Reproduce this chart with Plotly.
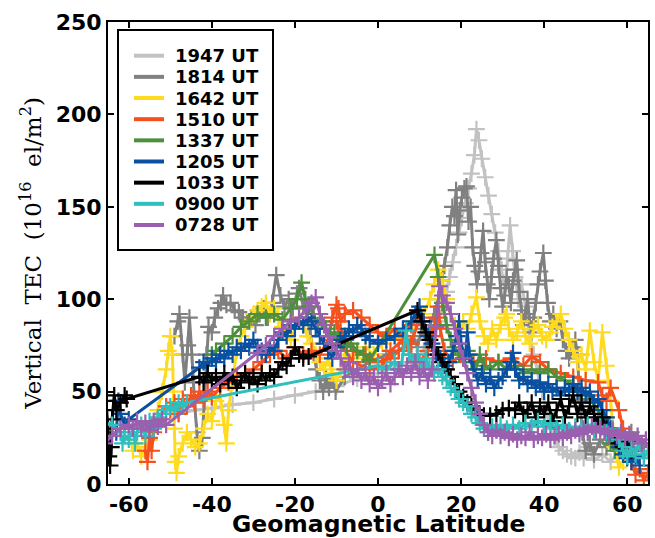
import plotly.graph_objects as go

# ---------------- data ----------------
labels = ["1947 UT", "1814 UT", "1642 UT", "1510 UT", "1337 UT",
          "1205 UT", "1033 UT", "0900 UT", "0728 UT"]
colors = ["#c2c2c2", "#808080", "#ffdb1f", "#f4511e", "#4d8f3d",
          "#0a50a0", "#000000", "#2fbfbf", "#9a5fae"]

lat_1947 = [-48, -44, -40, -35, -30, -25, -20, -15, -10, -5, 0, 4, 8, 11, 13, 14.5, 15.5, 16.5, 17.2, 18, 18.8,
            19.5, 20.2, 21, 21.8, 22.5, 23.2, 23.7, 24.3, 25, 25.8, 26.6, 27.4, 28.2, 29, 29.8, 30.5, 31.2, 31.8,
            32.4, 33, 33.8, 34.6, 35.5, 36.5, 37.5, 38.5, 39.5, 40.5, 41.5, 42.5, 43.5, 44.5, 45.5, 46.5, 47.5,
            48.5, 49.5, 50.5, 52, 54, 56, 58, 60, 62, 64]
tec_1947 = [38, 40, 41, 43, 44, 46, 48, 50, 53, 57, 60, 63, 66, 72, 80, 88, 96, 104, 112, 120, 128,
            136, 144, 152, 160, 168, 178, 192, 186, 176, 166, 156, 146, 136, 126, 116, 106, 122, 140,
            126, 112, 100, 108, 96, 80, 70, 60, 50, 40, 30, 24, 20, 18, 16, 15, 14,
            17, 14, 20, 13, 16, 12, 18, 15, 20, 14]

lat_1814 = [-49, -48.2, -47.8, -47, -46.5, -45.8, -45.4, -44.8, -44.2, -43.6, -43, -42.3, -41.8, -41.3, -40.8,
            -40, -39.3, -38.5, -37.8, -37.3, -36.5, -35.5, -34.5, -33.5, -32.5, -31.5, -30.5, -29.5, -28.5,
            -27.5, -26.5, -25.5, -24.5, -23.5, -22.5, -21.5, -20.5, -19.5, -19, -18, -17, -16.2, -15.5,
            -14.8, -14, -13.2, -12.5, -11.8, -11, -10.2, -8, -5, -2, 2, 5, 7, 8.5, 9.5, 10.5, 11.5, 12.5,
            13.5, 14.5, 15.3, 16, 16.7, 17.3, 17.9, 18.4, 18.8, 19.2, 19.7, 20.2, 20.8, 21.3, 21.8, 22.3,
            22.8, 23.3, 23.8, 24.3, 24.8, 25.3, 25.8, 26.3, 26.8, 27.3, 27.8, 28.5, 29, 29.5, 30, 30.5, 31,
            31.5, 32, 32.5, 33, 33.4, 34, 34.5, 35, 35.5, 36, 36.5, 37, 37.5, 38, 38.5, 39, 39.8, 40.3,
            40.8, 41.5, 42.2, 43, 43.8, 44.5, 45.3, 46, 46.8, 47.5, 48, 48.6, 49.2, 50, 51, 52, 53.5, 55,
            56.5, 58, 59.5, 61, 62.5, 64]
tec_1814 = [80, 88, 92, 70, 55, 75, 90, 70, 45, 28, 18, 25, 45, 70, 85,
            82, 90, 95, 98, 102, 97, 98, 94, 93, 90, 88, 90, 86, 92,
            95, 90, 98, 113, 102, 96, 100, 95, 103, 106, 96, 90, 80, 70,
            62, 56, 50, 57, 52, 56, 50, 58, 62, 66, 70, 72, 76, 80, 74, 84, 78, 86,
            92, 100, 110, 118, 128, 140, 150, 145, 159, 135, 148, 155, 160, 161, 142, 150,
            128, 118, 108, 115, 125, 137, 120, 108, 100, 112, 122, 132, 118, 106, 96, 102, 112,
            108, 98, 110, 116, 121, 104, 94, 86, 92, 100, 88, 82, 90, 98, 108, 115, 125, 110,
            98, 88, 92, 84, 88, 78, 72, 68, 74, 78, 70, 45, 28, 18, 22, 16, 24, 20,
            26, 18, 24, 28, 24, 20]

lat_1642 = [-60, -59, -58, -57, -56, -55, -54, -53, -52, -51, -50.5, -50, -49.5, -49.2, -49, -48.8, -48.5, -48,
            -47, -46, -45, -44, -43, -42, -41, -40, -39, -38, -37, -36.5, -36, -35, -34, -33, -32, -31, -30,
            -29, -28, -27, -26, -25, -24, -23, -22, -21, -20, -19, -18, -17, -16, -15, -14, -13, -12, -11,
            -10, -9, -8, -7, -6, -5, -3, -1, 1, 3, 5, 7, 9, 11, 12.5, 13.5, 14.5, 15.5, 16.5, 17.5, 18.5,
            19.5, 20.5, 21.5, 22.5, 23.7, 24.5, 25.5, 26.5, 27.5, 28.5, 29.5, 30.5, 31, 31.5, 32.5, 33.5,
            34.5, 35.5, 36.5, 37.5, 38.5, 39.5, 40.5, 41.5, 42, 43, 44, 45, 46, 47, 48, 49, 50, 51, 52, 53,
            54, 55, 56, 57, 58, 59, 60, 61, 62]
tec_1642 = [28, 18, 22, 15, 20, 24, 30, 40, 50, 62, 72, 80, 70, 50, 30, 12, 6, 15,
            22, 28, 24, 20, 22, 30, 38, 34, 45, 48, 32, 22, 40, 55, 72, 80, 85, 88, 92,
            94, 96, 98, 92, 95, 90, 85, 80, 78, 84, 90, 86, 80, 76, 70, 66, 62, 68, 60,
            56, 62, 70, 66, 72, 68, 74, 70, 76, 80, 78, 84, 88, 92, 100, 108, 116, 110, 100, 92, 86,
            80, 88, 84, 92, 101, 88, 80, 76, 84, 78, 86, 90, 92, 84, 78, 82,
            88, 80, 76, 84, 86, 80, 78, 82, 85, 88, 92, 84, 78, 72, 66, 70, 62, 83, 66, 56,
            82, 64, 45, 20, 9, 12, 15, 12, 18]

lat_1510 = [-56, -55.5, -55, -54.5, -54, -53, -52, -51, -50, -49, -48, -47, -46, -45, -44, -43, -42, -41, -40,
            -38, -36, -34, -32, -30, -28, -26, -24, -22, -20, -18, -16, -14, -12, -11, -10, -9.5, -9, -8,
            -6, -4, -2, 0, 2, 4, 6, 8, 10, 8, 5, 3, 0, -3, -6, -8, -10, -9, -6, -2, 1, 3, 6, 8, 10, 12, 13,
            14, 14.5, 15, 16, 18, 20, 23, 26, 29, 32, 35, 37, 39, 41, 44, 47, 50, 53, 54, 55, 56, 58, 59,
            60, 61, 62, 63, 64, 65]
tec_1510 = [18, 12, 25, 18, 28, 35, 38, 42, 40, 44, 38, 46, 42, 48, 44, 50, 46, 50, 47,
            52, 55, 58, 60, 62, 66, 70, 72, 68, 74, 70, 72, 70, 78, 90, 97, 95, 88, 92,
            94, 90, 86, 82, 80, 84, 80, 86, 90, 76, 72, 68, 66, 70, 72, 80, 88, 76, 66, 62, 64, 72, 78, 70, 66, 72, 80,
            90, 96, 84, 72, 66, 70, 66, 68, 66, 68, 64, 69, 66, 62, 60, 58, 56, 55, 48, 45, 52, 40, 30,
            20, 12, 5, 8, 2, 6]

lat_1337 = [-40, -39, -37, -35, -33, -31, -29, -27, -25, -23, -21, -19.5, -18.4, -17.5, -16.5, -15.5, -14.5,
            -13.5, -12.5, -11.5, -10.5, -9.5, -8.5, -7.5, -6.5, -5, -3.5, -2, 13.6, 14.5, 15.5, 16.5, 17.5,
            18.5, 19.5, 20.5, 21.5, 22.5, 23.5, 24.5, 25.5, 27, 29, 31, 33, 35, 37, 39, 41, 43, 45, 47, 49,
            51, 53, 54, 55, 56, 57, 58, 59, 60]
tec_1337 = [70, 72, 76, 80, 85, 88, 92, 90, 92, 89, 95, 100, 109, 100, 96, 92, 86,
            88, 84, 80, 82, 78, 76, 74, 76, 72, 70, 67, 124, 112, 98, 86, 78,
            74, 70, 68, 72, 66, 62, 70, 64, 62, 66, 62, 64, 60, 62, 60, 62, 58, 56, 54, 50,
            46, 40, 35, 28, 22, 18, 24, 20, 22]

lat_1205 = [-63, -62.5, -62, -61, -60, -43, -42, -41, -40, -39, -38, -37, -36, -35, -34, -33, -32, -31, -30,
            -29, -28, -27, -26, -25, -24, -23, -22, -21, -20, -19, -18, -17, -16, -15, -14, -13, -12, -11,
            -10, -9, -8, -7, -6, -5, -4, -3, -2, 0, 2, 4, 6, 8, 9, 10, 11, 12, 13, 14, 15, 16, 17, 18, 19,
            19.5, 20, 21, 21.5, 22, 23, 24, 25, 26, 27, 28, 29, 30, 31, 32, 32.5, 33, 34, 35, 36, 37, 38, 39,
            40, 41, 42, 43, 44, 45, 46, 47, 48, 49, 50, 51, 52, 53, 54, 55, 56, 57, 58, 59, 60, 61, 62, 63]
tec_1205 = [28, 45, 38, 32, 35, 63, 66, 64, 68, 66, 70, 68, 72, 70, 74, 72, 76, 74, 78,
            74, 72, 70, 74, 72, 78, 82, 80, 86, 84, 88, 86, 90, 88, 84, 80, 76, 72, 68,
            74, 78, 80, 84, 82, 86, 84, 80, 78, 76, 78, 80, 84, 88, 92, 96, 88, 80, 76, 70, 68, 64, 66, 72, 80,
            88, 76, 68, 82, 70, 62, 56, 60, 54, 58, 52, 56, 58, 62, 66, 71, 62, 56, 58, 54, 56, 52, 55,
            50, 54, 50, 52, 48, 52, 50, 54, 50, 52, 48, 50, 44, 46, 40, 36, 30, 24, 20, 16, 14, 12, 15, 10]

lat_1033 = [-65.5, -65, -64.8, -64.5, -64.2, -64, -63.5, -63, -62, -61, -60.5, -43, -42, -41, -40, -39, -38, -37,
            -36, -35, -34, -33, -32, -31, -30, -29, -28, -27, -26, -25, -24, -23, -22, -21, -20, -19, -18,
            -16.7, 9.5, 10.5, 11.5, 12.5, 13.5, 14.5, 15.5, 16.5, 17.5, 18.5, 19.5, 20.5, 21.5, 22.5, 23.5,
            24.5, 25.5, 27, 28.5, 30, 31.5, 33, 34, 35, 36, 37, 38, 39, 40, 41, 42, 43, 44, 45, 46, 47, 48,
            49, 50, 51, 52, 53, 54, 55, 57, 58, 59, 60, 61]
tec_1033 = [45, 30, 15, 10, 20, 35, 48, 40, 44, 48, 46, 58, 55, 60, 56, 58, 54, 60,
            56, 58, 52, 56, 60, 55, 58, 54, 60, 56, 60, 58, 62, 66, 64, 68, 74, 70, 68,
            69, 94, 88, 82, 78, 74, 70, 66, 62, 58, 54, 50, 47, 44, 42, 40,
            38, 37, 37, 38, 40, 41, 40, 44, 38, 40, 44, 36, 42, 38, 44, 34, 40, 46, 36, 42, 48, 38,
            44, 36, 42, 38, 32, 36, 30, 26, 22, 20, 23, 18]

lat_0900 = [-66, -64, -62, -61.5, -61, -60, -59, -58.5, -58, -57, -56, -55, -54, -53, -52, -51, -50, -49, -48,
            -47, -46, 0, 2, 4, 5.5, 6.8, 7.5, 8.5, 9.5, 10.5, 11.5, 12.4, 13.5, 14.5, 15.5, 16.5, 17.5, 18.5,
            19.5, 20.5, 21.5, 22.5, 23.5, 24.5, 25.5, 26.5, 27.5, 28.5, 29.5, 31, 32.5, 34, 35.5, 37, 38.5,
            40, 41.5, 43, 44.5, 46, 47.5, 49, 50.5, 52, 53.5, 55, 56.5, 58, 59, 60, 61, 62, 63, 64, 65]
tec_0900 = [33, 32, 28, 22, 26, 24, 30, 22, 28, 32, 26, 34, 30, 36, 38, 40, 42, 40, 44,
            42, 44, 64, 62, 66, 62, 83, 70, 66, 70, 64, 68, 63, 60, 62, 58, 56, 52, 50,
            46, 44, 42, 38, 36, 33, 30, 28, 31, 29, 32, 30, 32, 30, 33, 31, 34,
            31, 33, 30, 32, 29, 31, 30, 32, 29, 31, 28, 30, 24, 18, 15, 20, 16, 22, 14, 18]

lat_0728 = [-66, -64, -62, -60, -59, -58, -57, -56, -55, -54, -53, -52, -51, -29, -27, -25, -23, -21, -19, -17,
            -16, -15, -14, -13, -12, -11, -10, -9, -8, -7, -6, -5, -4, -3, -2, -1, 0, 1, 2, 3, 4, 5, 6, 7, 8,
            9, 10, 11, 12, 13, 14, 14.8, 15.5, 16.5, 17.5, 18.5, 19.5, 20.5, 21.5, 22.5, 23.5, 24.5, 25.5,
            26.5, 27.5, 28.5, 29.5, 30.5, 31.5, 32.5, 33.5, 34.5, 35.5, 36.5, 37.5, 38.5, 39.5, 40.5, 41.5,
            42.5, 43.5, 44.5, 45.5, 46.5, 47.5, 48.5, 49.5, 50.5, 51.5, 52.5, 53.5, 54.5, 55.5, 56.5, 57.5,
            58.5, 59.5, 60.5, 61.5, 62.5, 63.5, 64.5]
tec_0728 = [22, 26, 30, 32, 30, 34, 30, 33, 29, 34, 31, 35, 32, 71, 75, 80, 84, 88, 90, 95,
            98, 101, 92, 86, 80, 76, 72, 68, 62, 66, 58, 62, 56, 60, 54, 58, 52, 56, 60, 54, 58, 62, 58, 64, 60,
            66, 58, 62, 56, 62, 85, 107, 102, 98, 92, 84, 76, 68, 60, 52, 44, 38, 32,
            28, 26, 29, 26, 28, 25, 27, 24, 26, 25, 28, 24, 26, 25, 27, 24,
            26, 27, 25, 28, 26, 29, 27, 30, 28, 31, 29, 30, 28, 27, 29, 26,
            28, 25, 27, 24, 26, 22, 24]

x_ticks = [-60, -40, -20, 0, 20, 40, 60]
y_ticks = [0, 50, 100, 150, 200, 250]

series_lat = [lat_1947, lat_1814, lat_1642, lat_1510, lat_1337, lat_1205, lat_1033, lat_0900, lat_0728]
series_tec = [tec_1947, tec_1814, tec_1642, tec_1510, tec_1337, tec_1205, tec_1033, tec_0900, tec_0728]

# ---------------- figure ----------------
W, H = 655, 538
ML, MR, MT, MB = 108, 7, 22, 54
PW, PH = W - ML - MR, H - MT - MB


def px_x(px):
    return (px - ML) / PW


def px_y(py):
    return 1 - (py - MT) / PH


fig = go.Figure()
for lab, col, xs, ys in zip(labels, colors, series_lat, series_tec):
    fig.add_trace(go.Scatter(
        x=xs, y=ys, mode="lines+markers", name=lab, showlegend=False,
        line=dict(color=col, width=3),
        marker=dict(symbol="cross-thin", size=12, line=dict(width=2.2, color=col)),
        hoverinfo="skip"))

axis_common = dict(showgrid=False, zeroline=False, ticks="inside", ticklen=6, tickwidth=1.5,
                   tickcolor="black", showline=True, linecolor="black", linewidth=2,
                   mirror="allticks", automargin=False,
                   tickfont=dict(family="DejaVu Sans", size=22, color="black", weight="bold"))

fig.update_xaxes(range=[-65, 65], tickvals=x_ticks, ticktext=[str(v) for v in x_ticks],
                 **axis_common)
fig.update_yaxes(range=[0, 250], tickvals=y_ticks, ticktext=[str(v) for v in y_ticks],
                 title=dict(text="Vertical  TEC  (10<sup>16</sup>  el/m<sup>2</sup>)", standoff=8,
                            font=dict(family="DejaVu Serif", size=23, color="black")),
                 **axis_common)

# x-axis title placed under the tick labels
fig.add_annotation(xref="paper", yref="paper", x=px_x(378), y=px_y(524), xanchor="center", yanchor="middle",
                   text="Geomagnetic Latitude", showarrow=False,
                   font=dict(family="DejaVu Sans", size=23.5, color="black", weight="bold"))

# legend frame (drawn by hand so that row spacing matches)
fig.add_shape(type="rect", xref="paper", yref="paper",
              x0=px_x(118), x1=px_x(273), y0=px_y(250), y1=px_y(30),
              fillcolor="white", line=dict(color="black", width=2), layer="above")
row0, row_step = 55.7, 21.16
for i, (lab, col) in enumerate(zip(labels, colors)):
    yy = px_y(row0 + i * row_step)
    fig.add_shape(type="line", xref="paper", yref="paper",
                  x0=px_x(134), x1=px_x(164), y0=yy, y1=yy,
                  line=dict(color=col, width=4), layer="above")
    fig.add_annotation(xref="paper", yref="paper", x=px_x(173), y=yy, xanchor="left", yanchor="middle",
                       text=lab, showarrow=False,
                       font=dict(family="DejaVu Sans", size=18, color="black", weight="bold"))

fig.update_layout(
    width=W, height=H,
    margin=dict(l=ML, r=MR, t=MT, b=MB),
    plot_bgcolor="white", paper_bgcolor="white",
    showlegend=False,
)

fig.write_html("out.html", config={"displayModeBar": False},
               post_script="document.body.style.margin='0';document.body.style.overflow='hidden';")
